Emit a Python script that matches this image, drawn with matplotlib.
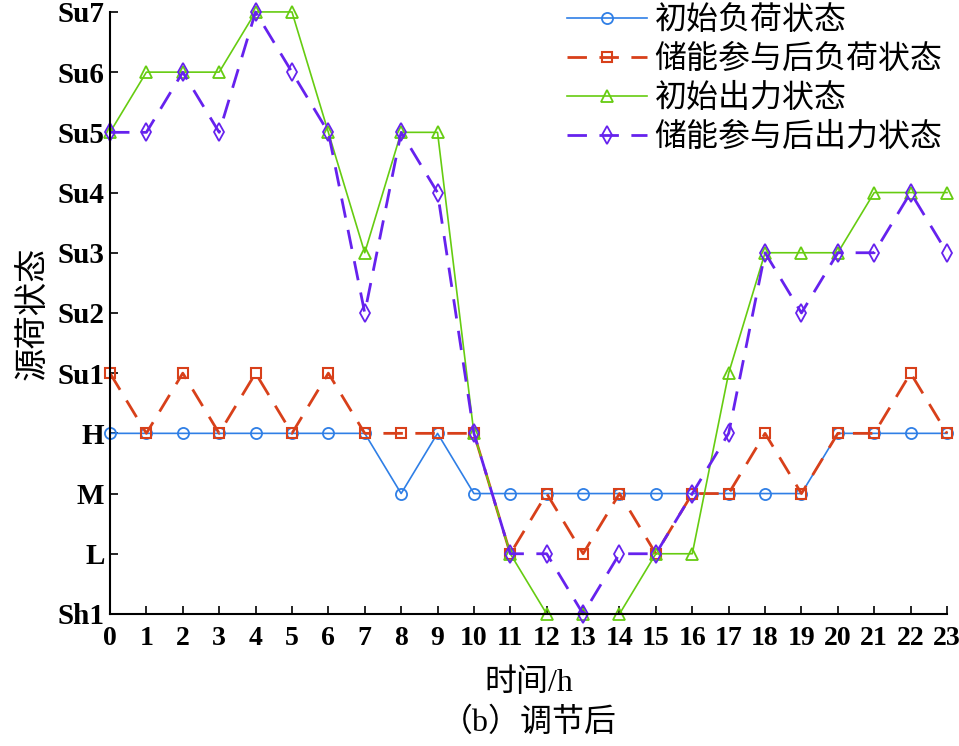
import matplotlib
matplotlib.use("Agg")
import matplotlib.pyplot as plt

plt.rcParams['font.family'] = ['Liberation Serif', 'Noto Sans CJK SC']

# state levels (bottom to top)
levels = ['Sh1', 'L', 'M', 'H', 'Su1', 'Su2', 'Su3', 'Su4', 'Su5', 'Su6', 'Su7']
hours = list(range(24))

load_init = ['H', 'H', 'H', 'H', 'H', 'H', 'H', 'H', 'M', 'H', 'M', 'M',
             'M', 'M', 'M', 'M', 'M', 'M', 'M', 'M', 'H', 'H', 'H', 'H']
load_after = ['Su1', 'H', 'Su1', 'H', 'Su1', 'H', 'Su1', 'H', 'H', 'H', 'H', 'L',
              'M', 'L', 'M', 'L', 'M', 'M', 'H', 'M', 'H', 'H', 'Su1', 'H']
gen_init = ['Su5', 'Su6', 'Su6', 'Su6', 'Su7', 'Su7', 'Su5', 'Su3', 'Su5', 'Su5', 'H', 'L',
            'Sh1', 'Sh1', 'Sh1', 'L', 'L', 'Su1', 'Su3', 'Su3', 'Su3', 'Su4', 'Su4', 'Su4']
gen_after = ['Su5', 'Su5', 'Su6', 'Su5', 'Su7', 'Su6', 'Su5', 'Su2', 'Su5', 'Su4', 'H', 'L',
             'L', 'Sh1', 'L', 'L', 'M', 'H', 'Su3', 'Su2', 'Su3', 'Su3', 'Su4', 'Su3']

labels = ['初始负荷状态', '储能参与后负荷状态', '初始出力状态', '储能参与后出力状态']


def idx(seq):
    return [levels.index(s) for s in seq]


fig = plt.figure(figsize=(9.59, 7.46), dpi=100)
ax = fig.add_axes([0.1147, 0.177, 0.8728, 0.807])

dash = (0, (7, 4.5))
ax.plot(hours, idx(load_init), color='#2f7fe6', lw=1.2, marker='o', ms=8,
        mfc='none', mew=1.3, label=labels[0])
ax.plot(hours, idx(load_after), color='#d8401a', lw=2, ls=dash, marker='s', ms=7,
        mfc='none', mew=1.5, label=labels[1])
ax.plot(hours, idx(gen_init), color='#66cc11', lw=1.2, marker='^', ms=8,
        mfc='none', mew=1.3, label=labels[2])
ax.plot(hours, idx(gen_after), color='#6622ee', lw=2, ls=dash, marker='d', ms=9,
        mfc='none', mew=1.3, label=labels[3])

ax.set_xlim(0, 23)
ax.set_ylim(0, 10)
ax.set_xticks(hours)
ax.set_xticklabels([str(h) for h in hours], fontsize=20, fontweight='bold')
ax.set_yticks(range(len(levels)))
ax.set_yticklabels(levels, fontsize=21, fontweight='bold')
ax.tick_params(axis='x', direction='in', length=6, width=1.2, pad=9)
ax.tick_params(axis='y', direction='in', length=6, width=1.2, pad=4)
for s in ['top', 'right']:
    ax.spines[s].set_visible(False)
for s in ['left', 'bottom']:
    ax.spines[s].set_linewidth(1.5)
for c in ax.get_lines():
    c.set_clip_on(False)

ax.set_xlabel('时间/h', fontsize=23, labelpad=12)
ax.set_ylabel('源荷状态', fontsize=24, labelpad=6)
ax.text(0.5, -0.18, '（b）调节后', transform=ax.transAxes, ha='center', va='center',
        fontsize=23)

ax.legend(loc='upper right', bbox_to_anchor=(1.01, 1.03), frameon=False, fontsize=23,
          handlelength=2.5, handletextpad=0.25, labelspacing=0.27, borderaxespad=0.0)

plt.savefig('out.png', dpi=100)
